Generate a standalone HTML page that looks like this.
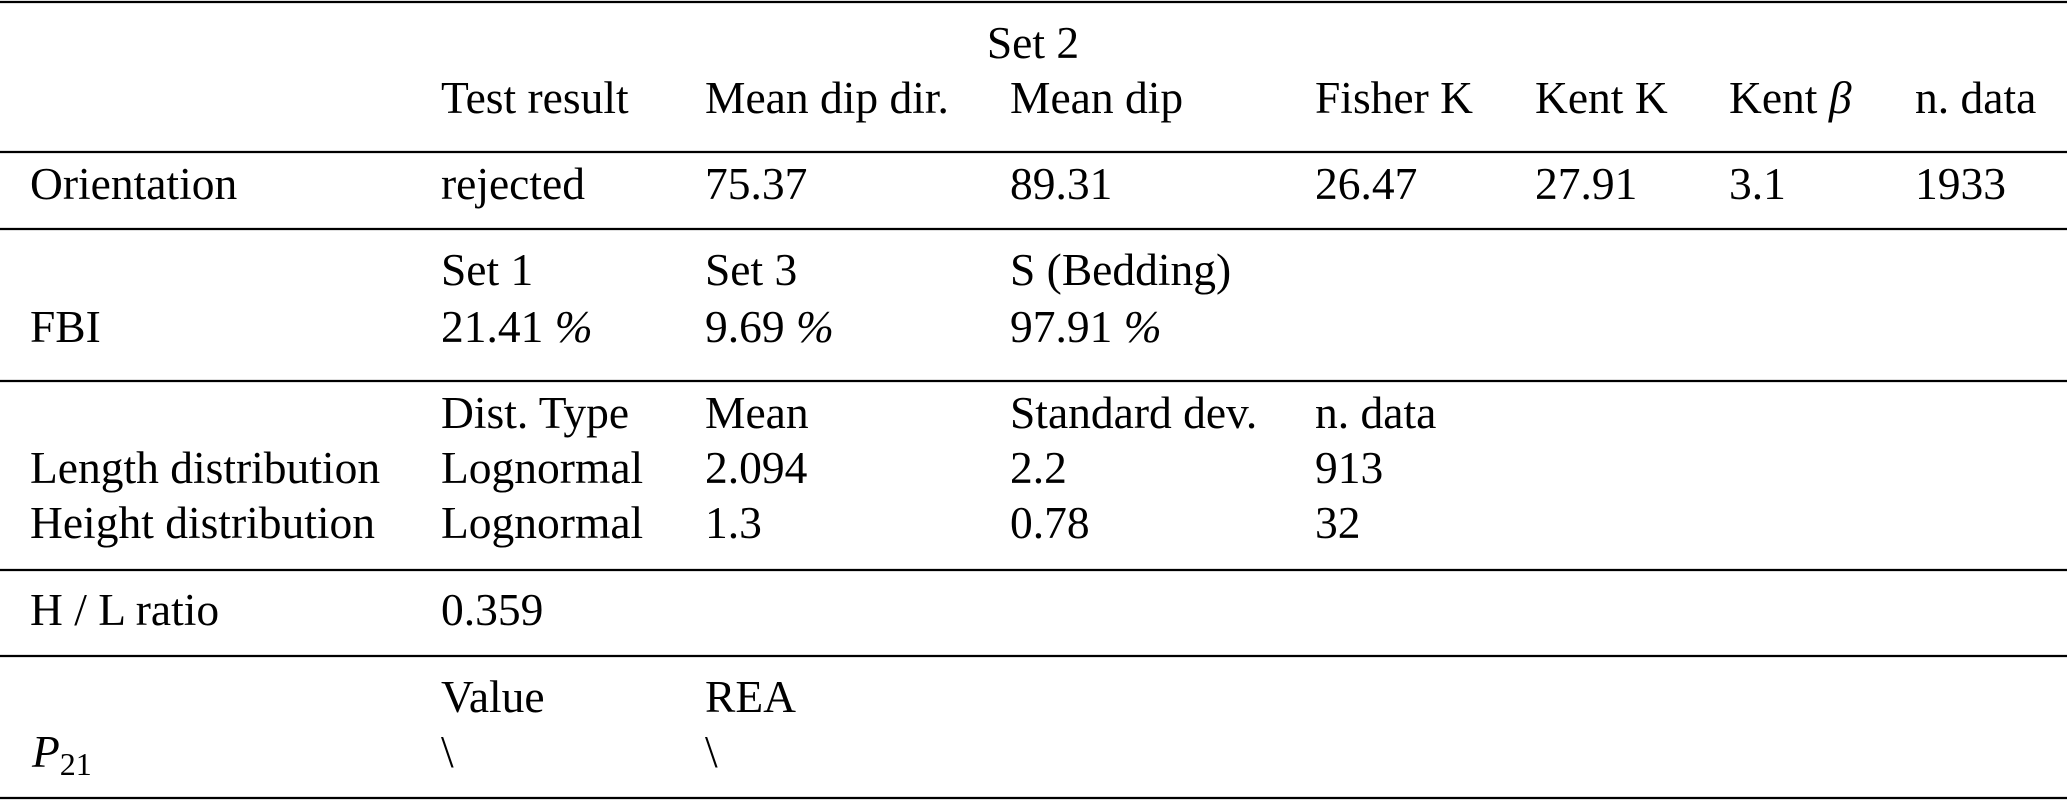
<!DOCTYPE html>
<html><head><meta charset="utf-8"><style>
html,body{margin:0;padding:0;background:#fff;}
svg{display:block;}
text{font-family:"Liberation Serif","DejaVu Serif",serif;font-size:45.5px;fill:#000;}
</style></head><body>
<svg width="2067" height="800" viewBox="0 0 2067 800">
<g stroke="#000" stroke-width="2.2">
<line x1="0" x2="2067" y1="2" y2="2"/>
<line x1="0" x2="2067" y1="152" y2="152"/>
<line x1="0" x2="2067" y1="229" y2="229"/>
<line x1="0" x2="2067" y1="381" y2="381"/>
<line x1="0" x2="2067" y1="570" y2="570"/>
<line x1="0" x2="2067" y1="656" y2="656"/>
<line x1="0" x2="2067" y1="798" y2="798"/>
</g>
<g>
<text x="1033" y="58" text-anchor="middle">Set 2</text>
<text x="441" y="113">Test result</text>
<text x="705" y="113">Mean dip dir.</text>
<text x="1010" y="113">Mean dip</text>
<text x="1315" y="113">Fisher K</text>
<text x="1535" y="113">Kent K</text>
<text x="1729" y="113">Kent <tspan font-style="italic">β</tspan></text>
<text x="1915" y="113">n. data</text>
</g>
<g>
<text x="30" y="199">Orientation</text>
<text x="441" y="199">rejected</text>
<text x="705" y="199">75.37</text>
<text x="1010" y="199">89.31</text>
<text x="1315" y="199">26.47</text>
<text x="1535" y="199">27.91</text>
<text x="1729" y="199">3.1</text>
<text x="1915" y="199">1933</text>
</g>
<g>
<text x="441" y="285">Set 1</text>
<text x="705" y="285">Set 3</text>
<text x="1010" y="285">S (Bedding)</text>
<text x="30" y="342">FBI</text>
<text x="441" y="342">21.41 <tspan font-style="italic">%</tspan></text>
<text x="705" y="342">9.69 <tspan font-style="italic">%</tspan></text>
<text x="1010" y="342">97.91 <tspan font-style="italic">%</tspan></text>
</g>
<g>
<text x="441" y="428">Dist. Type</text>
<text x="705" y="428">Mean</text>
<text x="1010" y="428">Standard dev.</text>
<text x="1315" y="428">n. data</text>
<text x="30" y="483">Length distribution</text>
<text x="441" y="483">Lognormal</text>
<text x="705" y="483">2.094</text>
<text x="1010" y="483">2.2</text>
<text x="1315" y="483">913</text>
<text x="30" y="538">Height distribution</text>
<text x="441" y="538">Lognormal</text>
<text x="705" y="538">1.3</text>
<text x="1010" y="538">0.78</text>
<text x="1315" y="538">32</text>
</g>
<g>
<text x="30" y="625">H / L ratio</text>
<text x="441" y="625">0.359</text>
</g>
<g>
<text x="441" y="712">Value</text>
<text x="705" y="712">REA</text>
<text x="32" y="767"><tspan font-style="italic">P</tspan><tspan font-size="32" dy="8">21</tspan></text>
<text x="441" y="767">\</text>
<text x="705" y="767">\</text>
</g>
</svg>
</body></html>
